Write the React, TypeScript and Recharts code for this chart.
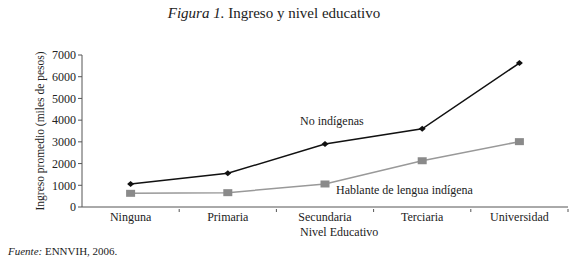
import { LineChart, Line, XAxis, YAxis, Label } from "recharts";

const categories = ["Ninguna", "Primaria", "Secundaria", "Terciaria", "Universidad"];
const noIndigenas = [1060, 1550, 2900, 3600, 6630];
const hablantes = [630, 660, 1060, 2130, 3010];
const yTicks = [0, 1000, 2000, 3000, 4000, 5000, 6000, 7000];
const xTicks = [0, 0.5, 1, 1.5, 2, 2.5, 3, 3.5, 4, 4.5];

const data = categories.map((name, i) => ({
  idx: i,
  name,
  noInd: noIndigenas[i],
  hab: hablantes[i],
}));

const serif = "'Liberation Serif', 'DejaVu Serif', serif";

const XTick = (props: any) => {
  const { x, y, payload } = props;
  const v = payload.value as number;
  if (Number.isInteger(v)) {
    return (
      <text x={x} y={y + 6} textAnchor="middle" fontSize={12} fontFamily={serif} fill="#222">
        {categories[v]}
      </text>
    );
  }
  return <line x1={x} x2={x} y1={y - 6} y2={y - 3} stroke="#555" />;
};

const Diamond = (props: any) => {
  const { cx, cy } = props;
  if (cx == null || cy == null) return null;
  return <path d={`M${cx - 3.5},${cy} L${cx},${cy - 3} L${cx + 3.5},${cy} L${cx},${cy + 3} Z`} fill="#111" />;
};

const Square = (props: any) => {
  const { cx, cy } = props;
  if (cx == null || cy == null) return null;
  return <rect x={cx - 4.5} y={cy - 3.5} width={9} height={7} fill="#8a8a8a" />;
};

export default function App() {
  return (
    <div style={{ position: "absolute", left: 0, top: 0, width: 572, height: 270, background: "#fff", fontFamily: serif, color: "#222" }}>
      <div style={{ position: "absolute", top: 5, left: 0, width: 548, textAlign: "center", fontSize: 15 }}>
        <i>Figura 1.</i> Ingreso y nivel educativo
      </div>
      <LineChart width={572} height={270} data={data} margin={{ top: 55, right: 4, bottom: 0, left: 0 }}>
        <XAxis
          dataKey="idx"
          type="number"
          domain={[-0.5, 4.5]}
          ticks={xTicks}
          interval={0}
          tickLine={false}
          tick={<XTick />}
          stroke="#555"
          height={63}
        />
        <YAxis
          type="number"
          domain={[0, 7000]}
          ticks={yTicks}
          interval={0}
          width={82}
          tickSize={4}
          tickMargin={2}
          stroke="#555"
          tick={{ fontSize: 12, fontFamily: serif, fill: "#222" }}
        >
          <Label
            value="Ingreso promedio (miles de pesos)"
            angle={-90}
            position="insideLeft"
            offset={40}
            style={{ textAnchor: "middle", fontSize: 11.5, fontFamily: serif, fill: "#222" }}
          />
        </YAxis>
        <Line dataKey="hab" stroke="#999" strokeWidth={1.5} dot={<Square />} isAnimationActive={false} />
        <Line dataKey="noInd" stroke="#111" strokeWidth={1.5} dot={<Diamond />} isAnimationActive={false} />
      </LineChart>
      <div style={{ position: "absolute", left: 300, top: 114, fontSize: 12 }}>No indígenas</div>
      <div style={{ position: "absolute", left: 336, top: 183, fontSize: 12 }}>Hablante de lengua indígena</div>
      <div style={{ position: "absolute", left: 300, top: 225, fontSize: 12 }}>Nivel Educativo</div>
      <div style={{ position: "absolute", left: 8, top: 245, fontSize: 11 }}>
        <i>Fuente:</i> ENNVIH, 2006.
      </div>
    </div>
  );
}
